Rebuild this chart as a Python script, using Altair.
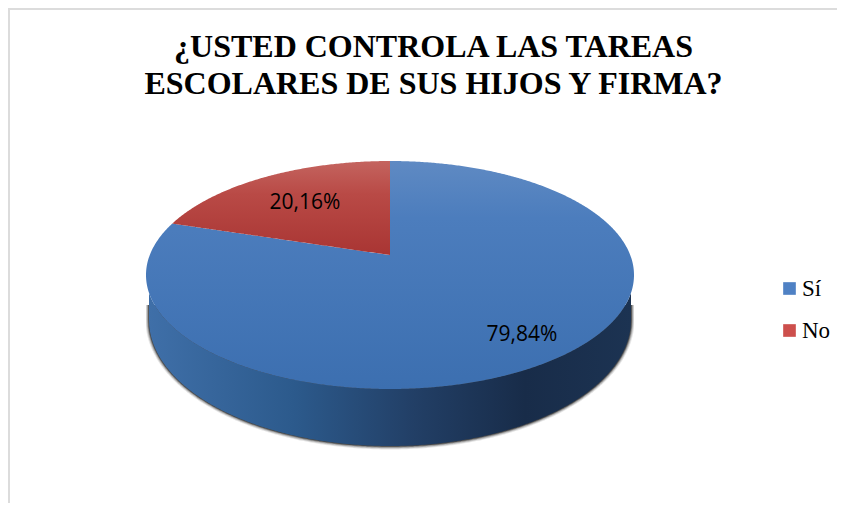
import numpy as np
import pandas as pd
import altair as alt

# ---- chart values -------------------------------------------------------
categories = ["Sí", "No"]
shares = [79.84, 20.16]
title_lines = ["¿USTED CONTROLA LAS TAREAS", "ESCOLARES DE SUS HIJOS Y FIRMA?"]

# ---- view (unit pie coordinates: the top face spans -1..1 on both axes) -
W, H = 829, 495
RX, RY = 244.0, 114.0          # px per unit
CX, CY = 382.0, 267.0          # canvas px of the pie centre
k = 0.175                      # perspective shift of the apex
x_scale = alt.Scale(domain=[(0 - CX) / RX, (W - CX) / RX], nice=False, zero=False)
y_scale = alt.Scale(domain=[(CY - H) / RY, CY / RY], nice=False, zero=False)

th = np.deg2rad(shares[1] * 3.6)
t, s = np.cos(th), np.sin(th)
xe = -s * np.sqrt(1 - k * k) / (1 + k * t)
ye = (t + k) / (1 + k * t)


def grid(a, b, n=240):
    lo, hi = np.arccos(np.clip(a, -1, 1)), np.arccos(np.clip(b, -1, 1))
    return np.cos(np.linspace(lo, hi, n))


def arc(x):
    return np.sqrt(np.clip(1 - x * x, 0, None))


# Sí: the face minus the wedge
bx = np.unique(np.concatenate([grid(-1, 1, 480), [xe, -1e-6, 1e-6]]))
bt = arc(bx)
inside = (bx >= xe) & (bx <= 0)
bt[inside] = ye + (k - ye) * (bx[inside] - xe) / (0 - xe)
blue = pd.DataFrame({"x": bx, "y": bt, "y2": -arc(bx)})

# No: the wedge
rx_ = grid(xe, 0, 160)
red = pd.DataFrame({"x": rx_, "y": arc(rx_), "y2": ye + (k - ye) * (rx_ - xe) / (0 - xe)})

# rim
SR = 241.0 / RX
SCY = (CY - (320 - 8)) / RY
SRY = 126.0 / RY
sx = grid(-SR, SR, 480)
side = pd.DataFrame({"x": sx, "y": -arc(sx), "y2": SCY - SRY * arc(sx / SR)})


def shadow_frame(d):
    r = (241.0 + d) / RX
    xs = grid(-r, r, 300)
    return pd.DataFrame({"x": xs, "y": (CY - (305 - 8)) / RY + 0 * xs,
                         "y2": SCY - ((126.0 + d) / RY) * arc(xs / r)})


def area(df, **kw):
    return alt.Chart(df).mark_area(**kw).encode(
        x=alt.X("x:Q", scale=x_scale, axis=None),
        y=alt.Y("y:Q", scale=y_scale, axis=None),
        y2="y2:Q",
    )


def grad(stops, horizontal=False):
    return alt.Gradient(
        gradient="linear",
        stops=[alt.GradientStop(color=c, offset=o) for o, c in stops],
        x1=0, x2=1 if horizontal else 0, y1=0, y2=0 if horizontal else 1,
    )


shadows = [area(shadow_frame(d), color="#000000", opacity=o)
           for d, o in [(3.5, 0.10), (2.5, 0.18), (1.5, 0.30), (0.7, 0.45)]]
rim = area(side, color=grad([(0, "#3f6fa8"), (0.3, "#2c5a8c"), (0.55, "#223f66"),
                             (0.78, "#182c49"), (1, "#1c3352")], True))
face = area(blue, color=grad([(0, "#5f8ac3"), (0.25, "#4c7dbd"), (1, "#3c6fb0")]))
wedge = area(red, color=grad([(0, "#c4645f"), (0.35, "#b94a46"), (1, "#a93533")]))

# percentage labels
label_df = pd.DataFrame({
    "x": [(522 - 8 - CX) / RX, (305 - 8 - CX) / RX],
    "y": [(CY - (335 - 8)) / RY, (CY - (203 - 8)) / RY],
    "t": [f"{v:.2f}%".replace(".", ",") for v in shares],
})
labels = alt.Chart(label_df).mark_text(
    font="Open Sans", fontSize=21, color="#000000", align="center", baseline="middle"
).encode(
    x=alt.X("x:Q", scale=x_scale, axis=None),
    y=alt.Y("y:Q", scale=y_scale, axis=None),
    text="t:N",
)

# legend carrier
leg_df = pd.DataFrame({"x": [0.0, 0.0], "y": [0.0, 0.0], "c": categories})
legend_layer = alt.Chart(leg_df).mark_square(opacity=0).encode(
    x=alt.X("x:Q", scale=x_scale, axis=None),
    y=alt.Y("y:Q", scale=y_scale, axis=None),
    color=alt.Color(
        "c:N",
        scale=alt.Scale(domain=categories, range=["#4f81c4", "#cd4f4c"]),
        legend=alt.Legend(
            title=None, orient="none", legendX=770, legendY=269,
            labelFont="Liberation Serif", labelFontSize=23, labelColor="#000000",
            symbolType="square", symbolSize=160, symbolOpacity=1, symbolStrokeWidth=0,
            rowPadding=18, labelOffset=1,
        ),
    ),
)

# outer frame
fr_l = alt.Chart(pd.DataFrame({"a": [0]})).mark_rule(color="#dcdcdc", strokeWidth=2).encode(
    x=alt.value(1), y=alt.value(0), y2=alt.value(H))
fr_t = alt.Chart(pd.DataFrame({"a": [0]})).mark_rule(color="#dcdcdc", strokeWidth=2).encode(
    y=alt.value(1), x=alt.value(0), x2=alt.value(W))

chart = alt.layer(fr_l, fr_t, *shadows, rim, face, wedge, labels, legend_layer).properties(
    width=W, height=H, padding=0,
    autosize=alt.AutoSizeParams(type="none"),
    background="#ffffff",
    title=alt.TitleParams(
        text=title_lines, font="Liberation Serif", fontWeight="bold", fontSize=32,
        color="#000000", anchor="middle", dx=11, lineHeight=37, offset=-94,
    ),
).configure_view(stroke=None)

chart.save("out.html", embed_options={"renderer": "svg", "actions": False})
